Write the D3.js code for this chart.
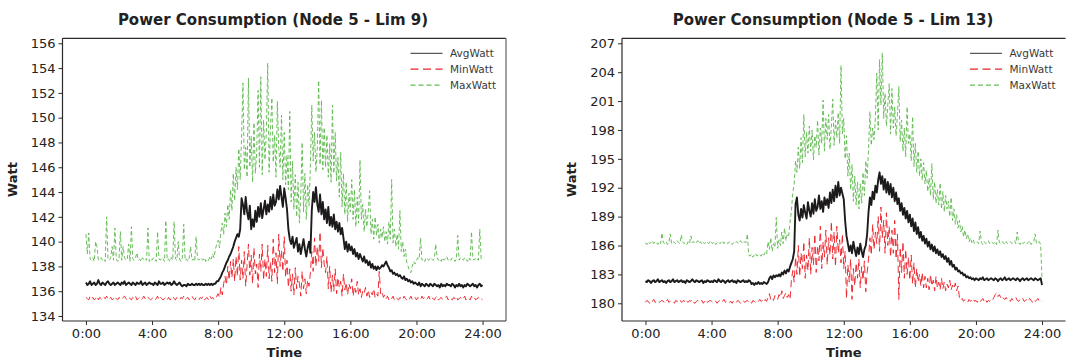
<!DOCTYPE html>
<html>
<head>
<meta charset="utf-8">
<script src="https://cdn.jsdelivr.net/npm/d3@7"></script>
<style>
  body { margin: 0; background: #fff; }
  svg { display: block; }
  text { font-family: "DejaVu Sans", Verdana, sans-serif; }
</style>
</head>
<body>
<svg id="chart" width="1077" height="361"></svg>
<script>
// Sampling interval of every series (minutes), starting at 0:00 and ending at 24:00
const stepMinutes = 5;

const seriesNames = ["AvgWatt", "MinWatt", "MaxWatt"];
const timeTicks = [0, 4, 8, 12, 16, 20, 24];
const timeTickLabels = ["0:00", "4:00", "8:00", "12:00", "16:00", "20:00", "24:00"];
const wattTicksLim9 = [134, 136, 138, 140, 142, 144, 146, 148, 150, 152, 154, 156];
const wattTicksLim13 = [180, 183, 186, 189, 192, 195, 198, 201, 204, 207];

// ---- Node 5, Lim 9 (one row per hour) ----
const avgLim9 = [
  136.7,136.5,136.6,136.8,136.5,136.6,136.7,136.5,136.6,136.9,136.6,136.5,
  136.7,136.6,136.5,136.7,136.8,136.6,136.5,136.6,136.7,136.5,136.6,136.7,
  136.6,136.5,136.7,136.6,136.8,136.5,136.6,136.7,136.6,136.5,136.7,136.6,
  136.5,136.7,136.6,136.6,136.8,136.5,136.6,136.7,136.5,136.6,136.7,136.6,
  136.6,136.5,136.7,136.6,136.5,136.8,136.6,136.6,136.7,136.5,136.6,136.7,
  136.6,136.7,136.5,136.6,136.8,136.6,136.5,136.6,136.7,136.5,136.4,136.5,
  136.5,136.4,136.6,136.5,136.5,136.6,136.5,136.5,136.6,136.5,136.6,136.5,
  136.6,136.5,136.5,136.6,136.5,136.6,136.5,136.6,136.5,136.6,136.6,136.8,
  136.8,137.0,137.2,137.5,137.7,138.0,138.3,138.5,138.8,139.0,139.3,139.6,
  140.0,140.3,140.6,140.4,141.0,143.5,143.0,142.2,143.6,142.4,141.8,142.9,
  141.0,141.8,141.2,142.5,141.6,142.8,142.0,143.1,141.9,142.6,143.3,142.2,
  143.0,142.4,143.6,142.6,143.8,142.9,143.2,144.2,143.4,144.5,143.6,142.8,
  144.3,143.5,142.6,141.0,140.2,139.8,140.4,139.5,139.9,140.3,139.2,139.8,
  139.0,139.6,140.2,139.4,138.8,139.5,140.0,139.1,142.5,144.0,143.2,144.4,
  143.0,142.4,143.8,142.2,143.2,141.8,142.6,141.5,142.8,141.3,142.0,141.2,
  142.2,141.0,141.6,140.8,141.5,140.6,141.1,140.3,139.4,140.0,139.2,139.8,
  139.3,139.6,139.0,139.4,138.8,139.1,138.6,139.0,138.7,138.4,138.8,138.3,
  138.5,138.1,138.4,137.9,138.2,137.8,138.0,137.7,138.0,137.8,137.9,138.1,
  138.0,138.2,138.4,138.1,137.9,137.6,137.7,137.4,137.5,137.3,137.4,137.2,
  137.3,137.1,137.0,137.2,136.9,137.0,136.8,136.9,136.7,136.8,136.6,136.7,
  136.6,136.5,136.7,136.4,136.6,136.5,136.4,136.6,136.5,136.4,136.6,136.5,
  136.4,136.6,136.5,136.4,136.5,136.3,136.6,136.4,136.5,136.4,136.6,136.5,
  136.5,136.4,136.6,136.5,136.3,136.5,136.4,136.6,136.4,136.5,136.3,136.5,
  136.4,136.6,136.5,136.4,136.5,136.6,136.4,136.5,136.3,136.5,136.6,136.4,
  136.5
];
const minLim9 = [
  135.5,135.4,135.3,135.6,135.4,135.5,135.3,135.4,135.6,135.3,135.5,135.4,
  135.3,135.5,135.4,135.6,135.3,135.4,135.5,135.3,135.4,135.6,135.4,135.3,
  135.5,135.4,135.3,135.5,135.6,135.4,135.3,135.5,135.4,135.3,135.5,135.4,
  135.6,135.3,135.4,135.5,135.3,135.4,135.6,135.4,135.3,135.5,135.4,135.3,
  135.4,135.5,135.3,135.4,135.6,135.3,135.5,135.4,135.3,135.4,135.5,135.3,
  135.5,135.3,135.4,135.6,135.4,135.3,135.5,135.4,135.3,135.5,135.4,135.6,
  135.3,135.4,135.5,135.3,135.4,135.6,135.4,135.3,135.5,135.4,135.3,135.5,
  135.4,135.6,135.3,135.4,135.5,135.3,135.6,135.4,135.5,135.3,135.4,135.6,
  135.8,135.5,136.3,135.7,136.6,137.2,136.5,138.0,136.9,138.4,137.1,138.6,
  136.8,138.8,137.2,139.6,136.9,138.5,137.0,139.2,136.4,138.1,139.8,137.3,
  138.9,136.6,139.5,137.4,138.2,136.3,139.0,137.6,139.8,136.9,138.6,137.2,
  139.7,137.0,138.4,136.8,140.2,137.5,139.1,136.6,140.6,138.0,139.3,137.6,
  140.4,137.1,138.5,136.3,137.8,136.0,137.4,135.7,137.9,136.2,137.2,136.6,
  135.6,137.6,136.2,137.0,135.8,136.9,136.4,137.5,139.2,137.6,140.3,138.0,
  139.6,138.4,140.8,137.9,139.5,138.2,137.5,138.8,136.2,138.0,135.9,137.3,
  136.0,137.8,135.8,137.1,136.3,136.8,135.6,137.4,136.1,136.7,135.7,136.6,
  136.2,137.0,135.6,136.4,135.9,136.8,135.7,136.2,135.5,136.0,135.8,136.3,
  135.6,136.1,135.5,135.9,135.7,136.2,135.5,135.8,135.6,137.6,135.8,136.0,
  135.5,135.7,135.4,135.6,135.3,135.5,135.4,135.6,135.3,135.5,135.4,135.3,
  135.5,135.4,135.3,135.6,135.4,135.3,135.5,135.4,135.6,135.3,135.4,135.5,
  135.3,135.5,135.4,135.3,135.6,135.4,135.5,135.3,135.4,135.6,135.3,135.5,
  135.4,135.3,135.5,135.6,135.3,135.4,135.5,135.3,135.4,135.5,135.6,135.3,
  135.5,135.4,135.3,135.5,135.4,135.6,135.3,135.4,135.5,135.3,135.4,135.6,
  135.3,135.5,135.4,135.3,135.6,135.4,135.5,135.3,135.4,135.5,135.3,135.4,
  135.3
];
const maxLim9 = [
  140.6,139.0,140.7,138.6,138.5,138.7,138.4,140.0,139.6,138.5,138.6,138.7,
  138.5,138.6,138.4,142.0,138.6,138.5,138.7,139.6,138.5,141.1,138.6,138.4,
  138.6,140.8,138.5,139.6,138.7,138.5,138.6,139.8,138.4,141.2,138.6,138.5,
  138.7,139.1,138.5,138.6,138.4,138.7,138.5,138.6,138.5,141.1,138.4,138.6,
  138.5,138.7,138.6,138.4,140.8,138.6,138.5,138.7,138.6,138.4,141.7,138.5,
  138.6,138.4,138.7,138.5,141.6,138.6,138.5,140.0,138.6,138.4,138.7,141.4,
  138.5,138.6,138.4,138.7,139.6,138.5,138.6,138.4,140.4,138.6,138.5,138.7,
  138.6,138.5,138.7,138.4,138.6,138.5,138.8,138.6,139.0,138.7,139.4,139.8,
  140.1,139.5,140.8,141.5,140.6,142.3,141.2,143.0,141.8,144.2,142.5,145.5,
  143.3,146.0,144.2,147.5,145.0,148.4,152.8,145.8,147.6,145.2,153.2,146.0,
  148.5,144.8,149.6,145.5,147.2,152.2,146.0,153.3,145.4,149.8,146.6,148.9,
  154.4,145.6,149.2,151.6,146.4,148.6,145.2,151.3,147.5,146.0,150.2,145.0,
  148.8,144.6,147.0,144.2,150.5,143.2,146.5,142.6,145.4,142.0,144.8,141.5,
  143.8,148.0,142.4,145.5,141.8,144.6,142.9,146.2,151.0,146.5,148.8,145.6,
  147.5,153.0,146.2,151.4,145.8,149.2,146.0,148.6,145.2,147.9,144.8,151.0,
  145.5,148.8,144.9,146.8,143.6,147.2,142.8,145.5,142.2,144.8,141.6,143.9,
  142.4,145.0,141.8,144.2,141.2,143.6,141.5,146.6,141.8,143.0,140.8,142.6,
  141.2,142.4,144.1,140.6,141.8,140.2,142.0,140.5,141.4,139.9,141.0,140.3,
  141.2,140.0,140.8,139.8,141.6,140.2,145.0,139.9,141.0,139.6,140.6,139.4,
  142.5,139.2,140.0,138.8,139.4,138.3,138.0,137.6,137.5,138.0,138.4,138.2,
  138.5,138.7,138.6,140.3,138.5,138.6,138.4,138.7,138.6,138.5,138.7,138.6,
  138.5,138.6,139.8,138.7,138.5,138.6,138.4,138.7,138.5,138.6,138.8,138.5,
  138.6,138.5,138.7,138.6,138.4,138.6,140.5,138.5,138.7,138.6,138.5,138.7,
  138.6,138.4,138.7,138.5,140.8,138.6,138.5,138.7,138.6,138.5,141.0,138.6,
  138.5
];

// ---- Node 5, Lim 13 (one row per hour) ----
const avgLim13 = [
  182.3,182.2,182.4,182.3,182.1,182.3,182.4,182.2,182.3,182.5,182.2,182.3,
  182.4,182.2,182.3,182.1,182.3,182.4,182.2,182.3,182.5,182.2,182.3,182.4,
  182.2,182.3,182.4,182.2,182.3,182.1,182.4,182.3,182.2,182.3,182.5,182.3,
  182.2,182.4,182.3,182.2,182.3,182.4,182.1,182.3,182.2,182.4,182.3,182.2,
  182.3,182.2,182.4,182.3,182.2,182.5,182.3,182.2,182.4,182.3,182.1,182.3,
  182.4,182.2,182.3,182.4,182.2,182.3,182.1,182.4,182.3,182.2,182.3,182.4,
  182.2,182.3,182.2,182.4,182.3,182.0,182.1,181.9,182.1,182.0,182.2,182.0,
  182.1,182.0,182.2,182.1,182.0,182.2,182.6,182.8,182.5,182.9,182.7,182.9,
  182.8,183.0,182.8,183.2,183.0,183.4,183.1,183.5,183.3,183.8,184.2,184.6,
  185.4,190.3,191.0,189.2,188.6,189.8,188.9,190.2,189.4,188.8,190.5,189.6,
  189.0,190.4,189.3,190.8,189.6,190.0,191.2,189.8,190.6,189.5,191.0,190.2,
  190.8,189.9,191.5,190.4,191.8,190.6,192.2,191.0,192.6,191.2,192.0,191.4,
  190.8,188.6,187.0,186.2,185.4,186.0,185.2,186.4,185.6,184.9,185.8,185.1,
  186.2,185.4,184.8,185.6,186.0,187.2,189.5,191.0,190.2,191.6,190.8,192.2,
  191.5,192.8,193.6,192.4,193.2,191.8,192.9,191.5,192.6,191.3,192.4,191.0,
  192.0,190.6,191.5,190.3,190.9,189.6,190.4,189.2,189.9,188.8,189.6,188.4,
  189.2,188.0,188.8,187.5,188.4,187.2,187.9,186.8,187.4,186.5,187.0,186.2,
  186.7,185.9,186.4,185.6,186.1,185.4,185.9,185.2,185.6,185.0,185.4,184.8,
  185.1,184.6,184.9,184.3,184.7,184.0,184.4,183.8,184.0,183.5,183.7,183.3,
  183.4,183.1,183.2,182.9,183.0,182.7,182.8,182.6,182.7,182.5,182.6,182.4,
  182.6,182.5,182.4,182.6,182.5,182.7,182.4,182.5,182.6,182.4,182.5,182.6,
  182.5,182.4,182.6,182.5,182.3,182.5,182.6,182.4,182.5,182.7,182.4,182.5,
  182.6,182.4,182.5,182.6,182.5,182.4,182.6,182.5,182.3,182.5,182.6,182.4,
  182.5,182.6,182.4,182.5,182.6,182.5,182.4,182.6,182.5,182.4,182.5,182.6,
  181.9
];
const minLim13 = [
  180.1,180.3,180.2,180.0,180.3,180.2,180.4,180.1,180.2,180.3,180.1,180.2,
  180.3,180.2,180.0,180.2,180.4,180.1,180.2,180.3,180.2,180.0,180.3,180.2,
  180.2,180.4,180.1,180.2,180.3,180.0,180.2,180.1,180.3,180.2,180.4,180.1,
  180.0,180.2,180.3,180.1,180.2,180.3,180.0,180.2,180.4,180.1,180.2,180.3,
  180.2,180.1,180.3,180.2,180.0,180.2,180.3,180.1,180.2,180.4,180.1,180.2,
  180.3,180.1,180.2,180.0,180.3,180.2,180.1,180.3,180.2,180.0,180.2,180.3,
  180.1,180.2,180.3,180.1,180.2,180.0,180.3,180.2,180.1,180.3,180.2,180.4,
  180.2,180.3,180.1,180.4,180.2,180.6,181.0,180.4,180.6,180.3,180.8,180.5,
  180.4,180.9,180.6,181.3,180.5,180.8,181.1,180.6,180.9,180.4,182.4,183.4,
  182.2,184.8,183.0,186.0,182.8,185.2,183.6,186.4,182.6,185.0,183.4,186.8,
  183.0,185.8,184.0,187.2,183.2,186.0,184.4,188.0,183.6,186.4,184.8,187.6,
  184.0,186.8,185.0,188.5,184.6,187.4,183.8,188.0,185.2,186.6,184.2,187.2,
  183.6,185.4,180.5,184.0,182.2,184.6,180.4,183.6,181.8,184.2,182.6,184.6,
  181.6,183.8,182.4,184.4,181.2,183.2,184.6,186.8,185.0,188.2,185.6,187.4,
  186.2,189.0,185.4,190.0,186.8,188.6,185.2,189.4,186.0,188.0,184.8,187.6,
  185.2,188.6,184.6,187.2,180.4,185.8,183.2,186.4,182.6,185.6,183.0,184.8,
  182.4,185.0,182.0,184.2,181.6,183.6,182.2,183.0,181.8,183.2,181.6,182.8,
  181.6,182.6,181.4,183.0,181.8,182.4,181.3,182.8,181.6,182.2,181.4,182.6,
  181.5,182.2,181.3,182.0,181.6,182.4,181.4,181.9,181.5,182.1,181.3,181.8,
  180.6,180.3,180.5,180.2,180.4,180.3,180.1,180.4,180.2,180.3,180.5,180.2,
  180.3,180.1,180.4,180.2,180.3,180.5,180.2,180.4,180.1,180.3,180.2,180.4,
  180.3,180.6,180.9,181.1,180.7,180.9,180.6,180.8,180.5,180.4,180.6,180.3,
  180.4,180.2,180.5,180.3,180.4,180.6,180.3,180.2,180.4,180.3,180.5,180.2,
  180.3,180.4,180.2,180.5,180.3,180.1,180.4,180.2,180.3,180.5,180.2,180.3,
  180.2
];
const maxLim13 = [
  186.3,186.1,186.4,186.2,186.3,186.5,186.2,186.4,186.3,186.1,186.4,186.2,
  187.3,186.3,186.2,186.4,186.1,186.3,187.2,186.2,186.4,186.3,186.2,186.5,
  186.3,186.2,187.1,186.4,186.2,186.3,186.1,186.4,186.2,187.0,186.3,186.4,
  186.2,186.3,186.5,186.2,186.4,186.1,186.3,186.2,186.4,186.3,186.2,186.5,
  186.3,186.2,186.4,186.1,186.3,186.4,186.2,186.3,186.5,186.2,186.4,186.3,
  186.2,186.4,186.3,186.1,186.3,186.2,186.4,186.3,186.2,186.5,186.3,186.2,
  186.4,186.3,187.2,185.0,184.9,185.1,184.8,185.0,185.2,184.9,185.1,185.0,
  184.9,185.2,185.0,185.3,185.1,186.4,185.6,186.8,185.4,186.2,185.8,188.9,
  185.7,186.6,186.0,187.4,186.2,187.8,186.5,187.2,187.0,188.4,189.6,191.5,
  192.4,194.8,193.6,196.2,194.0,197.2,194.6,199.6,195.2,197.8,195.6,198.4,
  195.8,198.0,194.9,197.4,196.2,199.0,195.4,198.2,196.6,201.1,195.8,199.2,
  197.0,199.6,196.0,198.4,201.2,196.4,199.0,197.2,199.8,196.6,204.7,197.6,
  199.2,195.0,197.4,193.2,195.6,191.8,194.4,190.6,193.2,190.2,192.6,189.8,
  192.4,190.4,193.6,191.2,194.8,193.0,196.0,199.9,196.4,198.2,197.0,199.4,
  203.9,198.0,205.3,200.6,206.0,199.2,201.8,198.4,200.6,202.8,197.6,202.3,
  198.2,200.4,197.4,199.6,202.5,196.8,199.0,195.8,198.2,195.2,200.4,196.6,
  197.6,194.8,199.4,194.2,196.6,193.6,195.8,193.2,195.0,192.8,194.6,192.4,
  193.8,191.6,193.0,191.2,194.5,190.8,192.6,190.4,191.8,190.2,192.5,189.8,
  191.6,189.5,191.2,189.8,190.6,189.0,191.0,188.6,189.8,188.2,189.2,187.8,
  188.6,187.4,188.0,186.9,187.6,186.7,187.2,186.4,186.8,186.3,186.6,186.2,
  186.3,186.4,186.2,187.5,186.3,186.1,186.4,186.2,186.3,186.5,186.2,186.4,
  186.3,186.2,186.4,186.1,187.6,186.3,186.2,186.4,186.3,186.1,186.4,186.2,
  186.3,186.4,186.2,186.3,186.5,186.2,187.4,186.3,186.1,186.4,186.2,186.3,
  186.4,186.2,186.3,186.5,186.1,186.3,186.4,187.2,186.2,186.3,186.4,186.1,
  182.5
];

// ---- layout and style ----
const plotTop = 38.3, plotBottom = 321;
const hourDomain = [-1.42, 25.42];
const seriesStyle = {
  AvgWatt: { color: "#1c1a1a", width: 1.9, dash: null, opacity: 1, legendColor: "#333", legendWidth: 1 },
  MinWatt: { color: "#ec1c24", width: 1, dash: "7,4", opacity: 0.92, legendColor: "#e8262b", legendWidth: 1.2 },
  MaxWatt: { color: "#5cb84c", width: 1, dash: "4,2.5", opacity: 0.92, legendColor: "#66bb55", legendWidth: 1.2 }
};

const panels = [
  { title: "Power Consumption (Node 5 - Lim 9)", avg: avgLim9, min: minLim9, max: maxLim9,
    ticks: wattTicksLim9, domain: [133.597, 156.403], left: 62.5, right: 506, titleX: 273, rightEdge: true },
  { title: "Power Consumption (Node 5 - Lim 13)", avg: avgLim13, min: minLim13, max: maxLim13,
    ticks: wattTicksLim13, domain: [178.16, 207.52], left: 622, right: 1065.5, titleX: 833, rightEdge: false }
];

const svg = d3.select("#chart");

panels.forEach((p, pi) => {
  const x = d3.scaleLinear().domain(hourDomain).range([p.left, p.right]);
  const y = d3.scaleLinear().domain(p.domain).range([plotBottom, plotTop]);
  const g = svg.append("g");

  const clipId = "clip" + pi;
  svg.append("clipPath").attr("id", clipId)
    .append("rect").attr("x", p.left).attr("y", plotTop)
    .attr("width", p.right - p.left).attr("height", plotBottom - plotTop);

  const line = d3.line()
    .x((d, i) => x(i * stepMinutes / 60))
    .y(d => y(d));

  const series = [["MaxWatt", p.max], ["MinWatt", p.min], ["AvgWatt", p.avg]];
  const lines = g.append("g").attr("clip-path", `url(#${clipId})`);
  series.forEach(([name, values]) => {
    const s = seriesStyle[name];
    lines.append("path")
      .datum(values)
      .attr("fill", "none")
      .attr("stroke", s.color)
      .attr("stroke-width", s.width)
      .attr("stroke-opacity", s.opacity)
      .attr("stroke-linejoin", "round")
      .attr("stroke-dasharray", s.dash)
      .attr("d", line);
  });

  // frame
  g.append("line").attr("x1", p.left).attr("x2", p.right).attr("y1", plotTop).attr("y2", plotTop)
    .attr("stroke", "#2a2a2a").attr("stroke-width", 1.2);
  if (p.rightEdge) {
    g.append("line").attr("x1", p.right).attr("x2", p.right).attr("y1", plotTop).attr("y2", plotBottom)
      .attr("stroke", "#8a8a8a").attr("stroke-width", 1.6);
  }

  // axes
  const yAxis = d3.axisLeft(y).tickValues(p.ticks).tickSize(4).tickPadding(3);
  const ya = g.append("g").attr("transform", `translate(${p.left},0)`).call(yAxis);
  const xAxis = d3.axisBottom(x).tickValues(timeTicks)
    .tickFormat((d, i) => timeTickLabels[i]).tickSize(4).tickPadding(4);
  const xa = g.append("g").attr("transform", `translate(0,${plotBottom})`).call(xAxis);
  [ya, xa].forEach(a => {
    a.select(".domain").attr("stroke", "#2a2a2a").attr("stroke-width", 1.2);
    a.selectAll(".tick line").attr("stroke", "#2a2a2a");
    a.selectAll(".tick text").attr("fill", "#222").style("font-size", "13px")
      .style("font-family", '"DejaVu Sans", Verdana, sans-serif');
  });
  // axis lines without the outer ticks
  ya.select(".domain").attr("d", `M0,${plotTop}V${plotBottom}`);
  xa.select(".domain").attr("d", `M${p.left},0H${p.right}`);

  // titles
  g.append("text").attr("x", p.titleX).attr("y", 25).attr("text-anchor", "middle")
    .attr("font-weight", "bold").attr("font-size", 15).attr("fill", "#222").text(p.title);
  g.append("text").attr("x", (p.left + p.right) / 2).attr("y", 357).attr("text-anchor", "middle")
    .attr("font-weight", "bold").attr("font-size", 13).attr("fill", "#222").text("Time");
  g.append("text")
    .attr("transform", `translate(${p.left - 46},${(plotTop + plotBottom) / 2}) rotate(-90)`)
    .attr("text-anchor", "middle").attr("font-weight", "bold").attr("font-size", 13)
    .attr("fill", "#222").text("Watt");

  // legend
  const lg = g.append("g").attr("transform", `translate(${p.left + 348},0)`);
  seriesNames.forEach((name, i) => {
    const s = seriesStyle[name];
    const ly = 53.3 + i * 15.9;
    lg.append("line").attr("x1", 0).attr("x2", 32).attr("y1", ly).attr("y2", ly)
      .attr("stroke", s.legendColor).attr("stroke-width", s.legendWidth)
      .attr("stroke-dasharray", name === "MinWatt" ? "8,4.5" : name === "MaxWatt" ? "5,3" : null);
    lg.append("text").attr("x", 39.5).attr("y", ly + 3.8).attr("font-size", 10.5)
      .attr("fill", "#3a3a3a").text(name);
  });
});
</script>
</body>
</html>
